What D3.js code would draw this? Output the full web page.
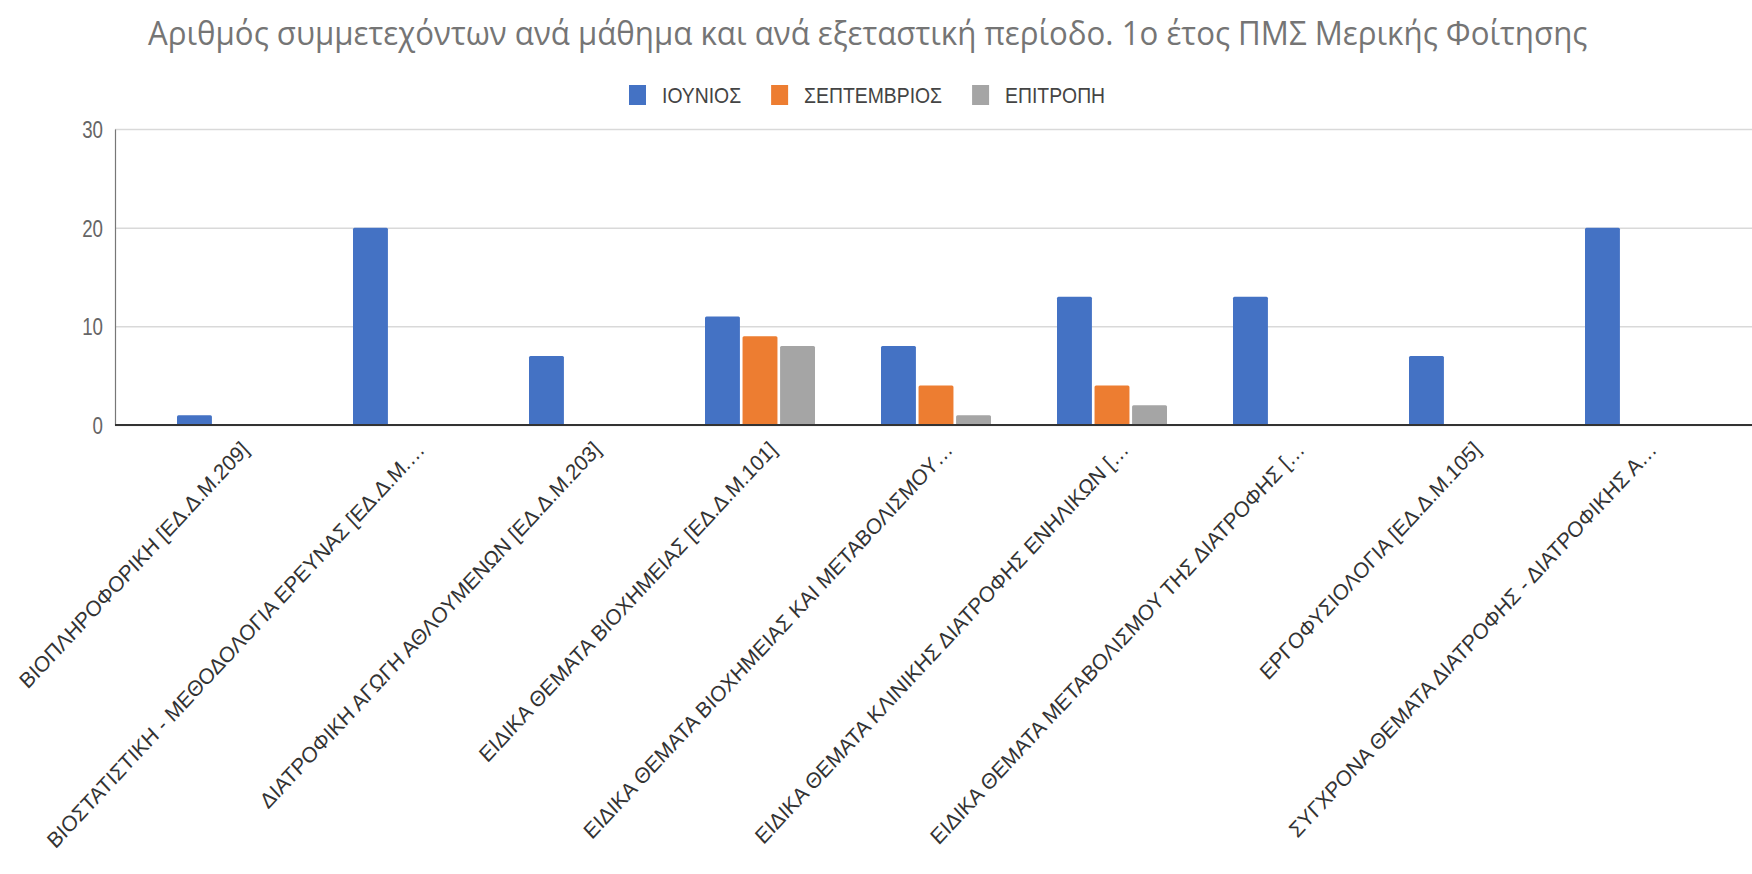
<!DOCTYPE html>
<html>
<head>
<meta charset="utf-8">
<script src="https://cdn.jsdelivr.net/npm/d3@7"></script>
<style>
  html, body { margin: 0; padding: 0; background: #ffffff; }
  svg { display: block; }
</style>
</head>
<body>
<svg id="chart" width="1752" height="874"></svg>
<script>
// ---------------- DATA ----------------
const title = "Αριθμός συμμετεχόντων ανά μάθημα και ανά εξεταστική περίοδο. 1ο έτος ΠΜΣ Μερικής Φοίτησης";
const categories = [
  "ΒΙΟΠΛΗΡΟΦΟΡΙΚΗ [ΕΔ.Δ.Μ.209]",
  "ΒΙΟΣΤΑΤΙΣΤΙΚΗ - ΜΕΘΟΔΟΛΟΓΙΑ ΕΡΕΥΝΑΣ [ΕΔ.Δ.Μ.…",
  "ΔΙΑΤΡΟΦΙΚΗ ΑΓΩΓΗ ΑΘΛΟΥΜΕΝΩΝ [ΕΔ.Δ.Μ.203]",
  "ΕΙΔΙΚΑ ΘΕΜΑΤΑ ΒΙΟΧΗΜΕΙΑΣ [ΕΔ.Δ.Μ.101]",
  "ΕΙΔΙΚΑ ΘΕΜΑΤΑ ΒΙΟΧΗΜΕΙΑΣ ΚΑΙ ΜΕΤΑΒΟΛΙΣΜΟΥ…",
  "ΕΙΔΙΚΑ ΘΕΜΑΤΑ ΚΛΙΝΙΚΗΣ ΔΙΑΤΡΟΦΗΣ ΕΝΗΛΙΚΩΝ […",
  "ΕΙΔΙΚΑ ΘΕΜΑΤΑ ΜΕΤΑΒΟΛΙΣΜΟΥ ΤΗΣ ΔΙΑΤΡΟΦΗΣ […",
  "ΕΡΓΟΦΥΣΙΟΛΟΓΙΑ [ΕΔ.Δ.Μ.105]",
  "ΣΥΓΧΡΟΝΑ ΘΕΜΑΤΑ ΔΙΑΤΡΟΦΗΣ - ΔΙΑΤΡΟΦΙΚΗΣ Α…"
];
const seriesNames = ["ΙΟΥΝΙΟΣ", "ΣΕΠΤΕΜΒΡΙΟΣ", "ΕΠΙΤΡΟΠΗ"];
const iounios     = [1, 20, 7, 11, 8, 13, 13, 7, 20];
const septemvrios = [0, 0, 0, 9, 4, 4, 0, 0, 0];
const epitropi    = [0, 0, 0, 8, 1, 2, 0, 0, 0];
const seriesValues = [iounios, septemvrios, epitropi];
const yTicks = [0, 10, 20, 30];
const colors = ["#4472c4", "#ed7d31", "#a5a5a5"];

// ---------------- LAYOUT ----------------
const svg = d3.select("#chart");
const axisLeftX = 115, axisRightX = 1752;
const yTop = 129, yBottom = 425;
const kx = 0.78;            // horizontal condensation of the axis texts
const kLegend = 0.88;

const y = d3.scaleLinear().domain([0, 30]).range([yBottom, yTop]);
const x0 = d3.scaleBand().domain(categories).range([144, 1728]).paddingInner(0).paddingOuter(0);
const x1 = d3.scaleBand().domain(seriesNames).range([-55, 55]).paddingInner(0.07);

// Title
const t = svg.append("text")
  .attr("font-family", "'Open Sans', 'DejaVu Sans', sans-serif")
  .attr("font-size", 32)
  .attr("fill", "#757575")
  .text(title);
const tw = t.node().getComputedTextLength();
const tsx = 1440 / tw;
t.attr("transform", `translate(148,45) scale(${tsx},1)`);

// Legend
const legend = svg.append("g");
let lx = 629;
seriesNames.forEach((name, i) => {
  legend.append("rect")
    .attr("x", lx).attr("y", 85).attr("width", 17).attr("height", 20)
    .attr("fill", colors[i]);
  const txt = legend.append("text")
    .attr("font-family", "'Liberation Sans', Arial, sans-serif")
    .attr("font-size", 22)
    .attr("fill", "#444")
    .text(name);
  const w = txt.node().getComputedTextLength() * kLegend;
  txt.attr("transform", `translate(${lx + 33},103) scale(${kLegend},1)`);
  lx += 33 + w + 30;
});

// Gridlines
const grid = svg.append("g")
  .attr("transform", `translate(${axisLeftX},0)`)
  .call(d3.axisLeft(y).tickValues(yTicks).tickSize(-(axisRightX - axisLeftX)).tickFormat(""));
grid.select(".domain").remove();
grid.selectAll(".tick line").attr("stroke", "#d9d9d9").attr("stroke-width", 1.5);

// Y axis labels
const yAxis = svg.append("g")
  .attr("transform", `translate(${axisLeftX},0)`)
  .call(d3.axisLeft(y).tickValues(yTicks).tickSize(0).tickPadding(12));
yAxis.select(".domain").attr("stroke", "#777").attr("stroke-width", 1.2);
yAxis.selectAll(".tick text")
  .attr("font-family", "'Liberation Sans', Arial, sans-serif")
  .attr("font-size", 24)
  .attr("fill", "#666")
  .attr("x", -12 / kx)
  .attr("dy", "0.36em")
  .attr("transform", `scale(${kx},1)`);

// Bars
const groups = svg.append("g").selectAll("g")
  .data(categories)
  .join("g")
  .attr("transform", d => `translate(${x0(d) + x0.bandwidth() / 2},0)`);

groups.selectAll("rect")
  .data((d, ci) => seriesNames.map((s, si) => ({ s, si, v: seriesValues[si][ci] })).filter(e => e.v > 0))
  .join("rect")
  .attr("x", e => x1(e.s))
  .attr("width", x1.bandwidth())
  .attr("y", e => y(e.v))
  .attr("height", e => y(0) - y(e.v))
  .attr("rx", 1.5)
  .attr("fill", e => colors[e.si]);

// Baseline
svg.append("line")
  .attr("x1", axisLeftX).attr("x2", axisRightX)
  .attr("y1", y(0)).attr("y2", y(0))
  .attr("stroke", "#333").attr("stroke-width", 2.2);

// X labels (slanted)
svg.append("g").selectAll("text")
  .data(categories)
  .join("text")
  .attr("font-family", "'Liberation Sans', Arial, sans-serif")
  .attr("font-size", 22)
  .attr("fill", "#333")
  .attr("text-anchor", "end")
  .attr("transform", d => `translate(${x0(d) + x0.bandwidth() / 2 + 18},451) scale(0.93,1) rotate(-45)`)
  .text(d => d);
</script>
</body>
</html>
